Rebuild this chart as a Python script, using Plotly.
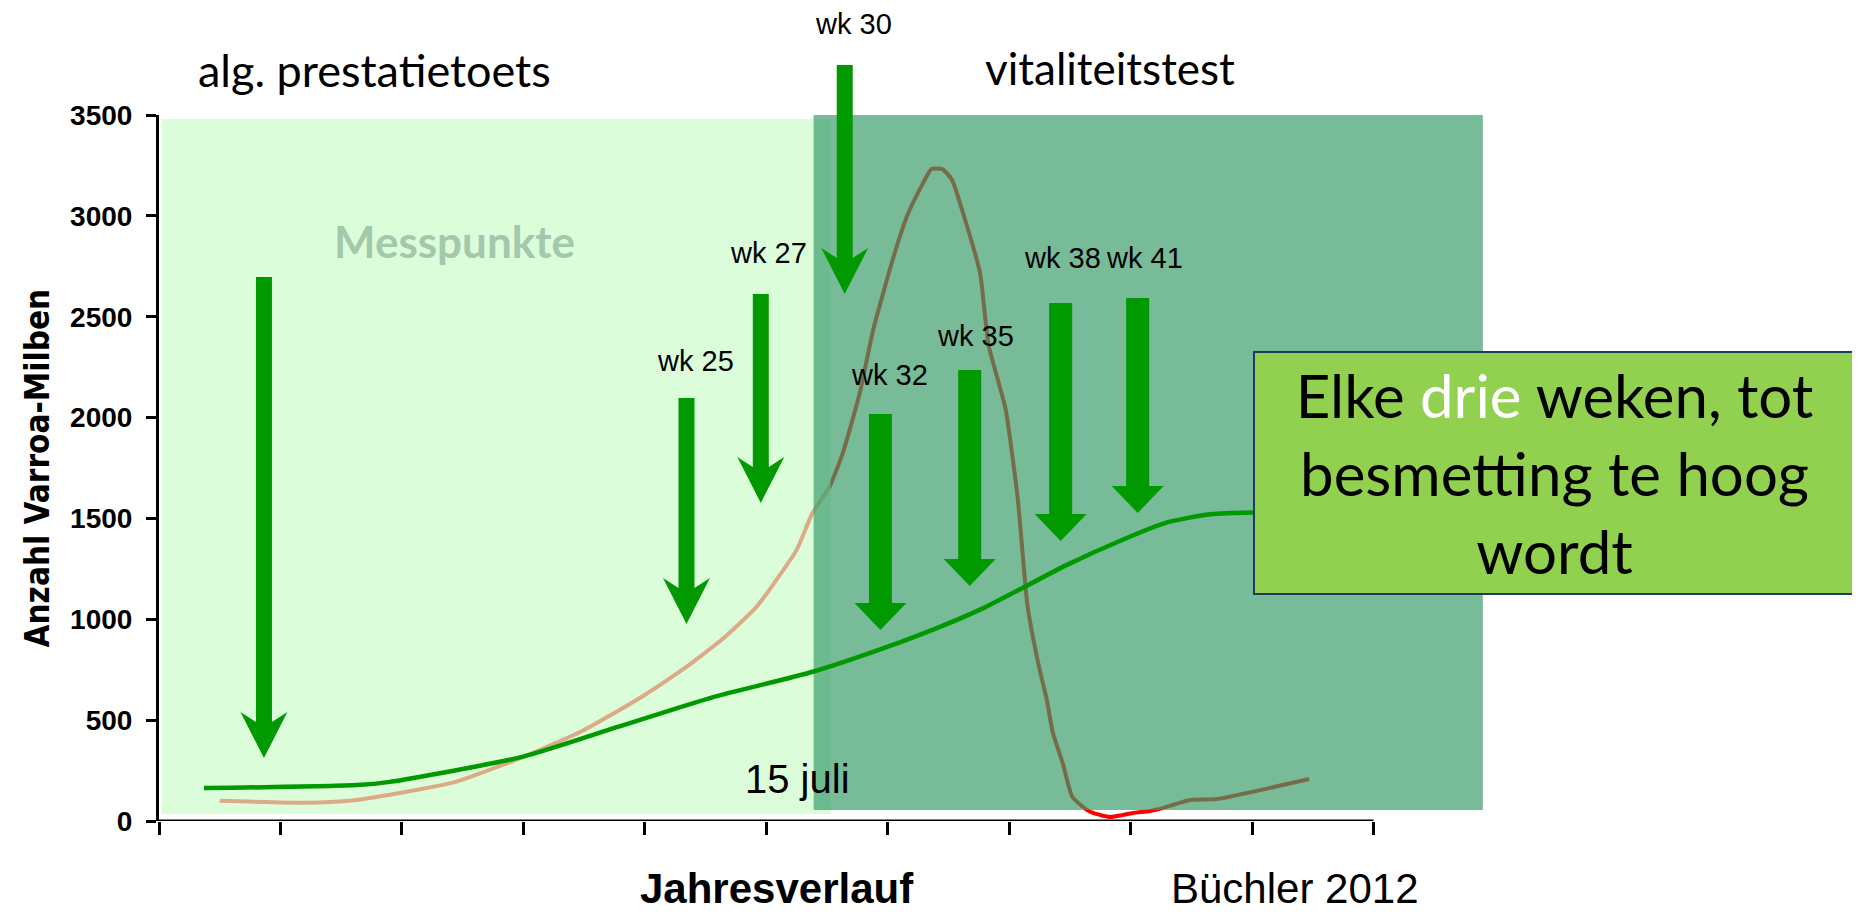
import plotly.graph_objects as go

# ---------------- data ----------------
# mite population curve (one red line, seen through the coloured phase overlays)
mite_x = [0.50, 1.22, 1.56, 1.97, 2.44, 2.99, 3.48, 3.96, 4.31, 4.63, 4.92, 5.25, 5.38, 5.52,
          5.63, 5.77, 5.88, 6.04, 6.16, 6.28, 6.36, 6.45, 6.53, 6.62, 6.76, 6.83, 6.97, 7.07,
          7.15, 7.24, 7.31, 7.36, 7.44, 7.47, 7.52, 7.64, 7.69, 7.83, 8.02, 8.16, 8.24, 8.49,
          8.71, 9.47]
mite_y = [100, 90, 100, 138, 194, 315, 445, 610, 750, 897, 1062, 1344, 1527, 1656,
          1824, 2122, 2434, 2781, 3000, 3150, 3232, 3232, 3178, 3014, 2717, 2360, 2043, 1601,
          1071, 780, 600, 436, 288, 218, 119, 55, 40, 20, 40, 50, 60, 104,
          109, 208]

# second (green) curve
green_x = [0.37, 1.63, 1.90, 2.99, 3.77, 4.55, 5.39, 6.11, 6.43, 6.80, 7.48, 7.93, 8.30, 8.67, 9.00, 9.30]
green_y = [163, 178, 194, 318, 465, 612, 741, 888, 962, 1059, 1271, 1393, 1480, 1522, 1530, 1530]

# phases (x0, x1, y0, y1)
phase_light = [0.02, 5.53, 35, 3480]     # alg. prestatietoets
phase_dark = [5.39, 10.9, 55, 3500]      # vitaliteitstest

# measuring-point arrows
arrow_labels = ["", "wk 25", "wk 27", "wk 30", "wk 32", "wk 35", "wk 38", "wk 41"]
arrow_x = [0.864, 4.343, 4.955, 5.646, 5.94, 6.675, 7.424, 8.058]
arrow_top = [2697, 2097, 2613, 3748, 2018, 2236, 2568, 2593]
arrow_tip = [312, 977, 1577, 2613, 947, 1165, 1388, 1527]
arrow_thick = [False, False, False, False, True, True, True, True]
label_x = [None, 4.416, 5.016, 5.72, 6.012, 6.72, 7.44, 8.115]
label_y = [None, 2278, 2814, 3950, 2209, 2402, 2789, 2789]

y_ticks = [0, 500, 1000, 1500, 2000, 2500, 3000, 3500]
x_ticks = list(range(0, 11))

X_RANGE = [0, 11.0]
Y_RANGE = [0, 3500]

# ---------------- figure geometry ----------------
FIG_W, FIG_H = 1852, 907          # page body has an 8px margin
M_L, M_R, M_T, M_B = 151, 364.5, 107, 94
PLOT_W = FIG_W - M_L - M_R
PLOT_H = FIG_H - M_T - M_B


def px(xv):
    return (xv - X_RANGE[0]) / (X_RANGE[1] - X_RANGE[0])


def py(yv):
    return (yv - Y_RANGE[0]) / (Y_RANGE[1] - Y_RANGE[0])


ARROW_GREEN = "#009900"
fig = go.Figure()

fig.add_trace(go.Scatter(x=mite_x, y=mite_y, mode="lines",
                         line=dict(color="#FF0000", width=4, shape="spline", smoothing=0.5),
                         hoverinfo="skip", showlegend=False))


def rect(b):
    return [b[0], b[1], b[1], b[0], b[0]], [b[2], b[2], b[3], b[3], b[2]]


lx, ly = rect(phase_light)
fig.add_trace(go.Scatter(x=lx, y=ly, mode="lines", fill="toself",
                         fillcolor="rgba(203,252,200,0.675)", line=dict(width=0),
                         hoverinfo="skip", showlegend=False))
dx, dy = rect(phase_dark)
fig.add_trace(go.Scatter(x=dx, y=dy, mode="lines", fill="toself",
                         fillcolor="rgba(58,157,107,0.69)", line=dict(width=0),
                         hoverinfo="skip", showlegend=False))

fig.add_trace(go.Scatter(x=green_x, y=green_y, mode="lines",
                         line=dict(color=ARROW_GREEN, width=4.5, shape="spline", smoothing=0.6),
                         hoverinfo="skip", showlegend=False))

# arrows as filled polygons (paper coordinates so they are not clipped)
shapes = []
for i in range(len(arrow_x)):
    cx, top, tip = px(arrow_x[i]), py(arrow_top[i]), py(arrow_tip[i])
    if arrow_thick[i]:
        sw, hw, hl, hj = 11.5, 26, 27, 27       # shaft half-width, head half-width, head length, junction
    else:
        sw, hw, hl, hj = 8, 23.5, 46, 36
    ax_ = lambda d: d / PLOT_W
    ay_ = lambda d: d / PLOT_H
    pts = [(cx - ax_(sw), top), (cx - ax_(sw), tip + ay_(hj)), (cx - ax_(hw), tip + ay_(hl)),
           (cx, tip), (cx + ax_(hw), tip + ay_(hl)), (cx + ax_(sw), tip + ay_(hj)),
           (cx + ax_(sw), top)]
    path = "M " + " L ".join(f"{a:.5f},{b:.5f}" for a, b in pts) + " Z"
    shapes.append(dict(type="path", xref="paper", yref="paper", path=path,
                       fillcolor=ARROW_GREEN, line=dict(width=0), layer="above"))

shapes.append(dict(type="line", xref="x", yref="y", x0=0, x1=10, y0=0, y1=0,
                   line=dict(color="black", width=3), layer="above"))

CAL = "Lato, Carlito, Calibri, sans-serif"
ARIAL = "Liberation Sans, Arial"


def note(x, y, text, font, **kw):
    d = dict(x=px(x), y=py(y), xref="paper", yref="paper", text=text, showarrow=False,
             xanchor="center", yanchor="middle", font=font)
    d.update(kw)
    return d


annotations = []
for i in range(len(arrow_x)):
    if arrow_labels[i]:
        annotations.append(note(label_x[i], label_y[i], arrow_labels[i],
                                dict(family=ARIAL, size=29, color="black")))

annotations += [
    note(1.778, 3723, "alg. prestatietoets", dict(family=CAL, size=45, color="black")),
    note(7.83, 3733, "vitaliteitstest", dict(family=CAL, size=44, color="black")),
    note(2.436, 2876, "<b>Messpunkte</b>", dict(family=CAL, size=44, color="#A3C8AC")),
    note(5.26, 208, "15 juli", dict(family=ARIAL, size=40, color="black")),
    note(5.09, -335, "<b>Jahresverlauf</b>", dict(family=ARIAL, size=42, color="black")),
    note(9.35, -333, "Büchler 2012", dict(family=ARIAL, size=42, color="black")),
    dict(x=0, y=0.5, xref="paper", yref="paper", xshift=-144, xanchor="left", yanchor="middle",
         text="<b>Anzahl Varroa-Milben</b>", textangle=-90, showarrow=False,
         font=dict(family="DejaVu Sans Condensed, Liberation Sans, Arial", size=33, color="black")),
    dict(x=px(9.01), y=py(2330), xref="paper", yref="paper", xanchor="left", yanchor="top",
         text="Elke <span style='color:white'>drie</span> weken, tot<br>besmetting te hoog<br>wordt",
         showarrow=False, align="center", valign="middle",
         width=599, height=240, bgcolor="#92D050", bordercolor="#1F3A5F", borderwidth=2,
         borderpad=0, font=dict(family=CAL, size=60, color="black")),
]

fig.update_layout(
    width=FIG_W, height=FIG_H,
    margin=dict(l=M_L, r=M_R, t=M_T, b=M_B, pad=0, autoexpand=False),
    paper_bgcolor="white", plot_bgcolor="white",
    showlegend=False,
    annotations=annotations,
    shapes=shapes,
    xaxis=dict(range=X_RANGE, tickvals=x_ticks, ticktext=[""] * len(x_ticks),
               showgrid=False, zeroline=False, showline=False,
               ticks="outside", ticklen=13, tickwidth=3, tickcolor="black"),
    yaxis=dict(range=Y_RANGE, tickvals=y_ticks, showgrid=False, zeroline=False,
               showline=True, linecolor="black", linewidth=3,
               ticks="outside", ticklen=10, tickwidth=2.5, tickcolor="black",
               ticklabelstandoff=8,
               tickfont=dict(family=ARIAL, size=28, color="black", weight="bold")),
)

fig.write_html("out.html")
